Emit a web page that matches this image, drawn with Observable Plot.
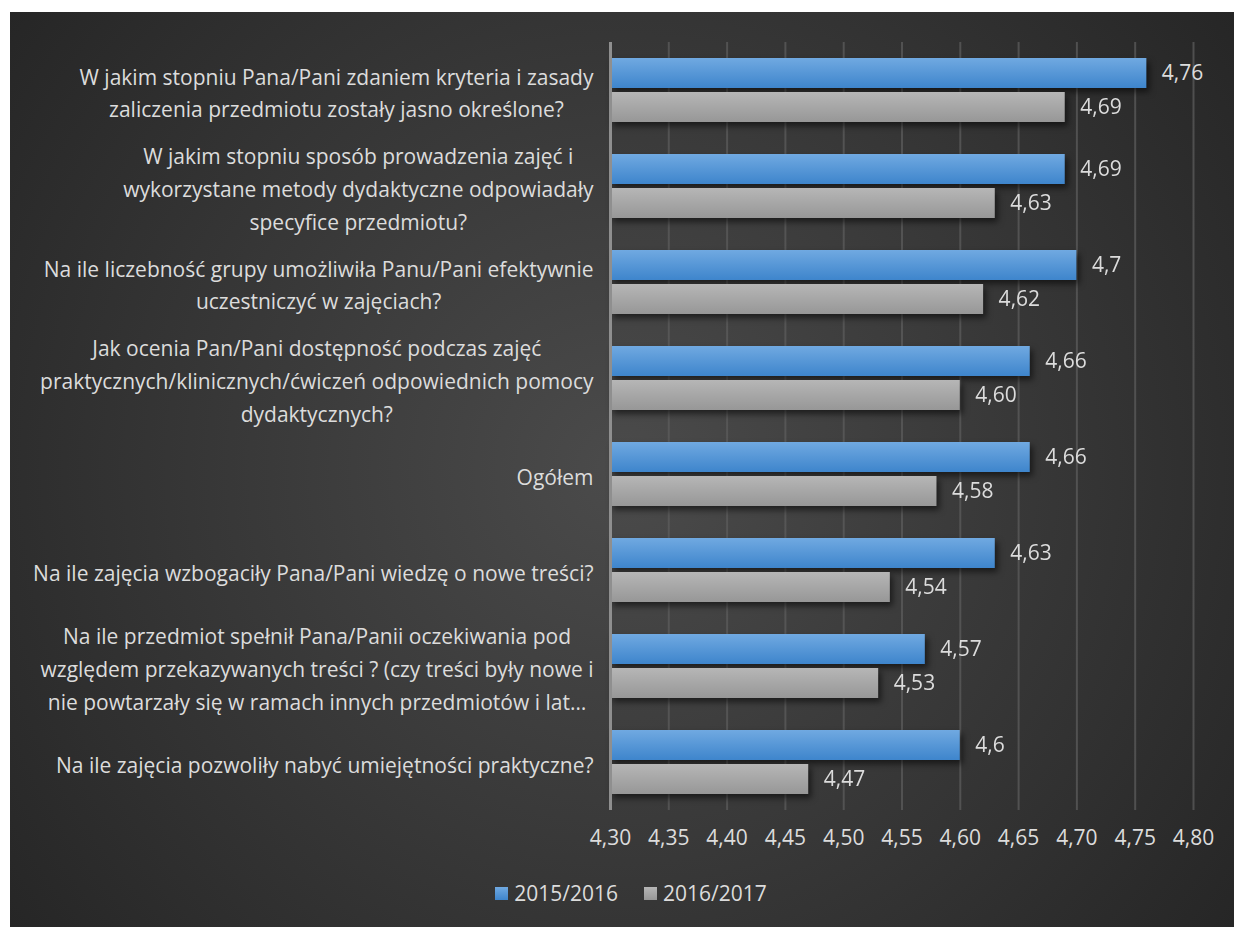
<!DOCTYPE html>
<html><head><meta charset="utf-8">
<script src="https://cdn.jsdelivr.net/npm/d3@7"></script>
<script src="https://cdn.jsdelivr.net/npm/@observablehq/plot@0.6"></script>
<style>
body{margin:0;background:#fff;}
#panel{position:absolute;left:10px;top:12px;width:1224px;height:915px;overflow:hidden;
  background:radial-gradient(circle at 50% 50%, #4b4b4b 0%, #262626 100%);
  font-family:"Open Sans",sans-serif;}
#panel svg{display:block;}
#legend{display:flex;justify-content:center;align-items:center;padding-left:18px;margin-top:9px;
  color:#dcdcdc;font-size:21px;line-height:24px;}
.item{display:flex;align-items:center;margin:0 13px;}
.sw{width:13px;height:13px;margin-right:6px;}
</style></head><body><div id="panel"></div>
<script>
const questions = [
  "W jakim stopniu Pana/Pani zdaniem kryteria i zasady\nzaliczenia przedmiotu zostały jasno określone?",
  "W jakim stopniu sposób prowadzenia zajęć i\nwykorzystane metody dydaktyczne odpowiadały\nspecyfice przedmiotu?",
  "Na ile liczebność grupy umożliwiła Panu/Pani efektywnie\nuczestniczyć w zajęciach?",
  "Jak ocenia Pan/Pani dostępność podczas zajęć\npraktycznych/klinicznych/ćwiczeń odpowiednich pomocy\ndydaktycznych?",
  "Ogółem",
  "Na ile zajęcia wzbogaciły Pana/Pani wiedzę o nowe treści?",
  "Na ile przedmiot spełnił Pana/Panii oczekiwania pod\nwzględem przekazywanych treści ? (czy treści były nowe i\nnie powtarzały się w ramach innych przedmiotów i lat…",
  "Na ile zajęcia pozwoliły nabyć umiejętności praktyczne?"
];
const series = ["2015/2016", "2016/2017"];
const values2015 = [4.76, 4.69, 4.7, 4.66, 4.66, 4.63, 4.57, 4.6];
const values2016 = [4.69, 4.63, 4.62, 4.60, 4.58, 4.54, 4.53, 4.47];
const labels2015 = ["4,76", "4,69", "4,7", "4,66", "4,66", "4,63", "4,57", "4,6"];
const labels2016 = ["4,69", "4,63", "4,62", "4,60", "4,58", "4,54", "4,53", "4,47"];
const xTicks = [4.30, 4.35, 4.40, 4.45, 4.50, 4.55, 4.60, 4.65, 4.70, 4.75, 4.80];
const gradients = {
  "2015/2016": ["#70a9e1", "#3e85cc"],
  "2016/2017": ["#b6b6b6", "#979797"]
};

const rows = questions.flatMap((q, i) => [
  {q, s: series[0], v: values2015[i], label: labels2015[i]},
  {q, s: series[1], v: values2016[i], label: labels2016[i]}
]);
const base = xTicks[0];
const txt = "#dcdcdc";

const chart = Plot.plot({
  width: 1224, height: 860,
  marginLeft: 600, marginRight: 41, marginTop: 30, marginBottom: 62,
  style: {background: "transparent", color: txt, fontFamily: "Open Sans, sans-serif", fontSize: "21px"},
  x: {domain: [xTicks[0], xTicks[xTicks.length - 1]], ticks: xTicks,
      tickFormat: d => d.toFixed(2).replace(".", ","), tickSize: 0, tickPadding: 20, label: null},
  y: {domain: series, paddingInner: 0.1176, paddingOuter: 0.47, axis: null},
  fy: {domain: questions, padding: 0, axis: null},
  marks: [
    Plot.ruleX(xTicks.slice(1), {stroke: "#5c5c5c", strokeWidth: 2, strokeOpacity: 0.75}),
    Plot.barX(rows.filter(d => d.s === series[0]), {x1: base, x2: "v", y: "s", fy: "q", fill: "url(#g0)"}),
    Plot.barX(rows.filter(d => d.s === series[1]), {x1: base, x2: "v", y: "s", fy: "q", fill: "url(#g1)"}),
    Plot.ruleX([base], {stroke: "#8f8f8f", strokeWidth: 3}),
    Plot.text(rows, {x: "v", y: "s", fy: "q", text: "label", textAnchor: "start", dx: 15, fill: txt, fontSize: 21}),
    Plot.text(questions, {fy: d => d, text: d => d, frameAnchor: "left", textAnchor: "end", dx: -17,
      lineHeight: 1.56, fill: txt, fontSize: 21})
  ]
});

const panel = document.getElementById("panel");
panel.appendChild(chart);

const svg = d3.select(chart);
const defs = svg.insert("defs", ":first-child");
series.forEach((s, i) => {
  const g = defs.append("linearGradient").attr("id", "g" + i)
    .attr("x1", 0).attr("y1", 0).attr("x2", 0).attr("y2", 1);
  g.append("stop").attr("offset", 0).attr("stop-color", gradients[s][0]);
  g.append("stop").attr("offset", 1).attr("stop-color", gradients[s][1]);
});
svg.selectAll('g[aria-label="bar"]').style("filter", "drop-shadow(3px 4px 3px rgba(0,0,0,0.55))");

// center multi-line labels about the widest line, right edge aligned
svg.selectAll("text").each(function() {
  const spans = this.querySelectorAll("tspan");
  if (spans.length < 2) return;
  let max = 0;
  spans.forEach(t => { max = Math.max(max, t.getComputedTextLength()); });
  this.setAttribute("text-anchor", "middle");
  spans.forEach(t => t.setAttribute("x", -max / 2));
});

// legend
const legend = document.createElement("div");
legend.id = "legend";
series.forEach(s => {
  const it = document.createElement("div");
  it.className = "item";
  const sw = document.createElement("div");
  sw.className = "sw";
  sw.style.background = `linear-gradient(${gradients[s][0]}, ${gradients[s][1]})`;
  const lb = document.createElement("span");
  lb.textContent = s;
  it.appendChild(sw); it.appendChild(lb);
  legend.appendChild(it);
});
panel.appendChild(legend);
</script>
</body></html>
